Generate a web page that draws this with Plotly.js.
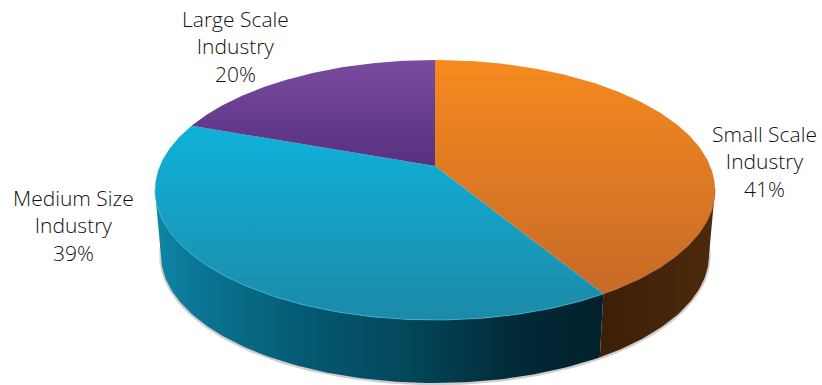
<!DOCTYPE html>
<html>
<head>
<meta charset="utf-8">
<script src="https://cdn.plot.ly/plotly-3.0.1.min.js"></script>
<style>html,body{margin:0;padding:0;background:#fff}#c{width:822px;height:385px}</style>
</head>
<body>
<div id="c"></div>
<script>
// Data: shares in reading order, clockwise from 12 o'clock
var categories = ['Small Scale<br>Industry', 'Medium Size<br>Industry', 'Large Scale<br>Industry'];
var shares = [41, 39, 20];
var topStart = ['#f68a1f', '#0fb2da', '#7a4b9f'];
var topEnd = ['#c76a28', '#1c8aa8', '#56307f'];
var sideScales = [
  [[0, '#3c1f08'], [1, '#4c2a0c']],
  [[0, '#0f86a6'], [0.1, '#0b7594'], [0.33, '#055a73'], [0.58, '#034558'], [0.8, '#022a38'], [1, '#01212c']],
  null
];
var rimColors = ['#b5602a', '#35b4d6', '#7a4b9f'];
var labelX = [764, 73, 235];
var labelY = [161, 225, 46];

// Projection of the disc
var topDisc = {cx: 435, cy: 190, rx: 280, ry: 130};
var baseDisc = {cx: 435, cy: 255, rx: 274, ry: 128};
var tilt = 0.185;
var p = tilt / (1 + Math.sqrt(1 - tilt * tilt));
var skew = {a: 1.33, b: -1.33, c: -1.17};

function project(share) {
  var phi = share / 100 * 2 * Math.PI;
  var re = Math.sin(phi), im = Math.cos(phi);
  var nr = re, ni = im + p;                 // z + p
  var dr = 1 + p * im, di = -p * re;        // 1 + conj(p) z
  var d = dr * dr + di * di;
  var wr = (nr * dr + ni * di) / d, wi = (ni * dr - nr * di) / d;
  var t = Math.atan2(wr, wi);
  t += (skew.a + skew.b * wi + skew.c * wr) * Math.PI / 180;
  return [Math.sin(t), Math.cos(t)];
}
function onDisc(disc, w) { return [disc.cx + disc.rx * w[0], disc.cy - disc.ry * w[1]]; }
function arc(from, to) {
  var out = [], n = 160;
  for (var i = 0; i <= n; i++) out.push(project(from + (to - from) * i / n));
  return out;
}

var traces = [], wedges = [], cum = 0;
shares.forEach(function (s, i) {
  wedges.push(arc(cum, cum + s));
  cum += s;
});

// outer soft shadow along the base
var baseEdge = arc(25, 75).map(function (w) { return onDisc(baseDisc, w); });
traces.push({type: 'scatter', mode: 'lines', x: baseEdge.map(function (q) { return q[0]; }), y: baseEdge.map(function (q) { return q[1] + 0.5; }),
  line: {color: 'rgba(120,110,105,0.35)', width: 3.5}, hoverinfo: 'skip'});

// side walls
wedges.forEach(function (pts, i) {
  if (!sideScales[i]) return;
  var front = pts.filter(function (w) { return w[1] <= 0.005; });
  if (!front.length) return;
  var upper = front.map(function (w) { return onDisc(topDisc, w); });
  var lower = front.map(function (w) { return onDisc(baseDisc, w); }).reverse();
  var poly = upper.concat(lower);
  traces.push({type: 'scatter', mode: 'lines', fill: 'toself',
    x: poly.map(function (q) { return q[0]; }), y: poly.map(function (q) { return q[1]; }),
    line: {width: 0, color: 'rgba(0,0,0,0)'},
    fillgradient: {type: 'horizontal', colorscale: sideScales[i]}, hoverinfo: 'skip'});
});

// top faces
var apex = [topDisc.cx, topDisc.cy - topDisc.ry * tilt];
wedges.forEach(function (pts, i) {
  var rim = pts.map(function (w) { return onDisc(topDisc, w); });
  var poly = [apex].concat(rim).concat([apex]);
  traces.push({type: 'scatter', mode: 'lines', fill: 'toself',
    x: poly.map(function (q) { return q[0]; }), y: poly.map(function (q) { return q[1]; }),
    line: {width: 0, color: 'rgba(0,0,0,0)'},
    fillgradient: {type: 'vertical', colorscale: [[0, topEnd[i]], [1, topStart[i]]]}, hoverinfo: 'skip'});
  var front = pts.filter(function (w) { return w[1] <= 0.02; }).map(function (w) { return onDisc(topDisc, w); });
  if (front.length) traces.push({type: 'scatter', mode: 'lines',
    x: front.map(function (q) { return q[0]; }), y: front.map(function (q) { return q[1]; }),
    line: {width: 0.8, color: rimColors[i]}, hoverinfo: 'skip'});
});

var annotations = categories.map(function (c, i) {
  return {x: labelX[i], y: labelY[i], xref: 'x', yref: 'y', text: c + '<br>' + shares[i] + '%',
    showarrow: false, align: 'center', xanchor: 'center', yanchor: 'middle',
    font: {family: '"Open Sans", "Noto Sans", sans-serif', size: 21, weight: 300, color: '#111111'}};
});

Plotly.newPlot('c', traces, {
  width: 822, height: 385, margin: {l: 0, r: 0, t: 0, b: 0},
  paper_bgcolor: '#fff', plot_bgcolor: '#fff', showlegend: false,
  xaxis: {range: [0, 822], visible: false, fixedrange: true},
  yaxis: {range: [385, 0], visible: false, fixedrange: true},
  annotations: annotations
}, {displayModeBar: false, staticPlot: true});
</script>
</body>
</html>
